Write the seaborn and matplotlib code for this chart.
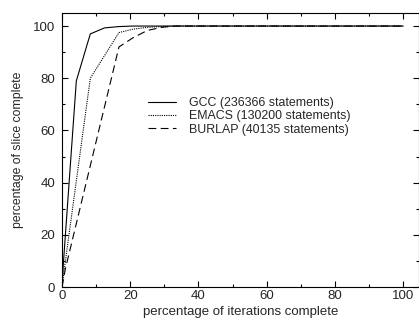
import matplotlib
matplotlib.use("Agg")
import matplotlib.pyplot as plt
from matplotlib.ticker import MultipleLocator
import seaborn as sns
import pandas as pd

# Slice completion as a function of iterations completed (percent)
gcc_x = [0, 0.4, 4.2, 8.3, 12.5, 16.7, 20.8, 25.0, 100]
gcc_y = [0, 9, 79, 97, 99.3, 99.8, 100, 100, 100]

emacs_x = [0, 0.9, 8.3, 16.7, 20.8, 25.0, 29.2, 33.3, 100]
emacs_y = [0, 9, 80, 97.5, 98.8, 99.5, 99.8, 100, 100]

burlap_x = [0, 1.0, 16.7, 20.8, 25.0, 29.2, 33.3, 100]
burlap_y = [0, 7, 92, 95.5, 98.3, 99.5, 100, 100]

labels = ["GCC (236366 statements)",
          "EMACS (130200 statements)",
          "BURLAP (40135 statements)"]

sns.set_style("ticks")
plt.rcParams["font.family"] = ["Liberation Sans", "DejaVu Sans"]

fig = plt.figure(figsize=(4.19, 3.24), dpi=100)
ax = fig.add_axes([62 / 419, 37 / 324, (418.5 - 62) / 419, (287 - 13) / 324])

series = [(gcc_x, gcc_y, labels[0], "-"),
          (emacs_x, emacs_y, labels[1], (0, (1, 1))),
          (burlap_x, burlap_y, labels[2], (0, (7, 4)))]

for xs, ys, name, ls in series:
    df = pd.DataFrame({"iterations": xs, "slice": ys})
    sns.lineplot(data=df, x="iterations", y="slice", ax=ax, color="black",
                 linewidth=0.8, linestyle=ls, label=name, sort=False,
                 estimator=None)

ax.set_xlim(0, 104.5)
ax.set_ylim(0, 105)
ax.xaxis.set_major_locator(MultipleLocator(20))
ax.xaxis.set_minor_locator(MultipleLocator(10))
ax.yaxis.set_major_locator(MultipleLocator(20))
ax.yaxis.set_minor_locator(MultipleLocator(10))

ax.tick_params(which="both", direction="in", top=True, right=True,
               color="black", width=0.8)
ax.tick_params(which="major", length=4.5)
ax.tick_params(which="minor", length=2.5)
ax.tick_params(axis="x", which="major", pad=2.5, labelsize=9.5)
ax.tick_params(axis="y", which="major", pad=5, labelsize=9.5)

for s in ax.spines.values():
    s.set_visible(True)
    s.set_color("black")
    s.set_linewidth(0.8)

ax.set_xlabel("percentage of iterations complete", fontsize=9.5, labelpad=2.5)
ax.set_ylabel("percentage of slice complete", fontsize=8.8, labelpad=6)

leg = ax.legend(loc="upper left", bbox_to_anchor=(0.241, 0.693), frameon=False,
                fontsize=8.9, handlelength=2.3, handletextpad=1.0,
                labelspacing=0.1, borderaxespad=0, borderpad=0)

fig.savefig("out.png", dpi=100)
